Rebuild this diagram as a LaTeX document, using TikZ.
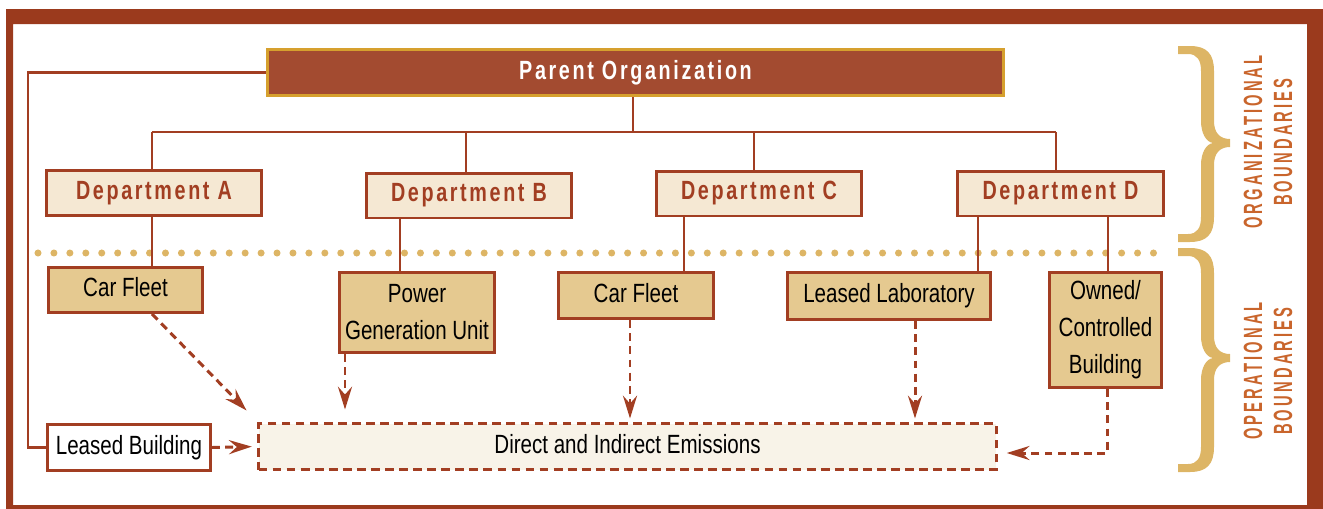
\documentclass[tikz,border=0pt]{standalone}
\usepackage{fontspec}
\setmainfont{Liberation Sans}[FakeStretch=0.78]
\newfontfamily\headfont{Liberation Sans}[FakeStretch=0.75,LetterSpace=10]
\newfontfamily\sidefont{Liberation Sans}[FakeStretch=0.56,LetterSpace=12]
\usetikzlibrary{arrows.meta}

\definecolor{framered}{HTML}{9B3A1D}
\definecolor{rust}{HTML}{A23E22}
\definecolor{parentfill}{HTML}{A34B30}
\definecolor{parentline}{HTML}{D6A02E}
\definecolor{deptfill}{HTML}{F5E8D3}
\definecolor{opfill}{HTML}{E5C990}
\definecolor{emfill}{HTML}{F8F3E8}
\definecolor{bracegold}{HTML}{DDB565}
\definecolor{sidetext}{HTML}{C9652C}

\tikzset{>={Stealth[length=13pt,width=8pt,inset=4.5pt]}}
\tikzset{
  box/.style={draw=rust, line width=1.7pt, inner sep=0pt, align=center,
    font=\fontsize{15}{21}\selectfont},
  parentbox/.style={box, draw=parentline, fill=parentfill, text=white,
    font=\headfont\bfseries\fontsize{15}{18}\selectfont,
    minimum width=14.72cm, minimum height=0.92cm},
  deptbox/.style={box, fill=deptfill, text=rust,
    font=\headfont\bfseries\fontsize{15}{18}\selectfont,
    minimum width=4.12cm, minimum height=0.9cm},
  opbox/.style={box, fill=opfill},
  embox/.style={box, fill=emfill, dash pattern=on 5pt off 3pt},
  link/.style={draw=rust, line width=1.4pt},
  flow/.style={draw=rust, line width=1.7pt, dash pattern=on 4.5pt off 3pt, ->, shorten >=2pt},
  dotline/.style={draw=bracegold, line width=4pt, line cap=round, dash pattern=on 0pt off 9.07pt},
  sidelabel/.style={rotate=90, align=center, text=sidetext,
    font=\sidefont\bfseries\fontsize{15}{17}\selectfont}
}

% right hand brace: top, middle, bottom
\newcommand{\gbrace}[3]{%
  \fill[bracegold] (1178,#1) -- (1190,#1) .. controls (1207,#1) and (1214,{#1+8}) .. (1214,{#1+25})
    -- (1214,{#2-22}) .. controls (1214,{#2-10}) and (1220,{#2-4}) .. (1230,{#2-4})
    -- (1230,{#2+4}) .. controls (1220,{#2+4}) and (1214,{#2+10}) .. (1214,{#2+22})
    -- (1214,{#3-25}) .. controls (1214,{#3-8}) and (1207,#3) .. (1190,#3)
    -- (1178,#3) -- (1178,{#3-8}) -- (1188,{#3-8}) .. controls (1197,{#3-8}) and (1201,{#3-14}) .. (1201,{#3-25})
    -- (1201,{#2+22}) .. controls (1201,{#2+10}) and (1206,{#2+1}) .. (1213,#2)
    .. controls (1206,{#2-1}) and (1201,{#2-10}) .. (1201,{#2-22})
    -- (1201,{#1+25}) .. controls (1201,{#1+14}) and (1197,{#1+8}) .. (1188,{#1+8})
    -- (1178,{#1+8}) -- cycle;}

\begin{document}
\begin{tikzpicture}[x=0.02cm, y=-0.02cm]
    \useasboundingbox (0,0) rectangle (1323,508);
    \fill[framered, even odd rule] (6,9) rectangle (1340,520) (13,24) rectangle (1307,505);

    % organization level
    \node[parentbox] (parent) at (635.5,72.5) {Parent Organization};
    \node[deptbox, minimum width=4.32cm] (dA) at (154,193) {Department A};
    \node[deptbox] (dB) at (469,195.5) {Department B};
    \node[deptbox] (dC) at (759,193.5) {Department C};
    \node[deptbox] (dD) at (1060.5,193.5) {Department D};

    \draw[link] (parent.south -| 633,0) -- (633,132);
    \draw[link] (152,132) -- (1056,132);
    \foreach \d/\x in {dA/152, dB/466, dC/754, dD/1056}
        \draw[link] (\d.north -| \x,0) -- (\x,132);

    \draw[dotline] (38,253) -- (1168,253);

    % operational level
    \node[opbox, minimum width=3.08cm, minimum height=0.9cm, text depth=3pt] (cfA) at (125.5,290) {Car Fleet};
    \node[opbox, minimum width=3.1cm, minimum height=1.6cm] (pgu) at (417,312.5) {Power\\Generation Unit};
    \node[opbox, minimum width=3.1cm, minimum height=0.92cm, text depth=3pt] (cfC) at (636,295.5) {Car Fleet};
    \node[opbox, minimum width=4.06cm, minimum height=0.94cm] (lab) at (889,296) {Leased Laboratory};
    \node[opbox, minimum width=2.24cm, minimum height=2.3cm] (own) at (1105.5,330) {Owned/\\Controlled\\Building};
    \node[box, fill=white, minimum width=3.26cm, minimum height=0.92cm, text depth=3pt] (lb) at (129,447.5) {Leased Building};
    \node[embox, minimum width=14.76cm, minimum height=0.92cm, text depth=3pt] (em) at (627.5,446.5) {Direct and Indirect Emissions};

    \foreach \a/\b/\x in {dA/cfA/152, dB/pgu/400, dC/cfC/684, dD/lab/978, dD/own/1108}
        \draw[link] (\a.south -| \x,0) -- (\b.north -| \x,0);
    \draw[link] (parent.west) -| (lb.west -| 28,0) -- (lb.west);

    % emissions
    \coordinate (hitA) at (249,413);
    \draw[flow] (cfA.south -| 152,0) -- (hitA);
    \draw[flow] (pgu.south -| 345,0) -- ([yshift=0.18cm]em.north -| 345,0);
    \draw[flow] (cfC.south -| 630,0) -- (em.north -| 630,0);
    \draw[flow] (lab.south -| 915,0) -- (em.north -| 915,0);
    \draw[flow, shorten >=5pt] (own.south -| 1107,0) -- (1107,453) -- (em.east |- 0,453);
    \draw[flow, shorten >=3pt] (lb.east) -- (em.west);

    % boundaries
    \gbrace{46}{143}{242}
    \gbrace{248}{358}{472}
    \node[sidelabel] (orgb) at (1268,142) {ORGANIZATIONAL\\BOUNDARIES};
    \node[sidelabel] (opb) at (1268,371) {OPERATIONAL\\BOUNDARIES};
\end{tikzpicture}
\end{document}
